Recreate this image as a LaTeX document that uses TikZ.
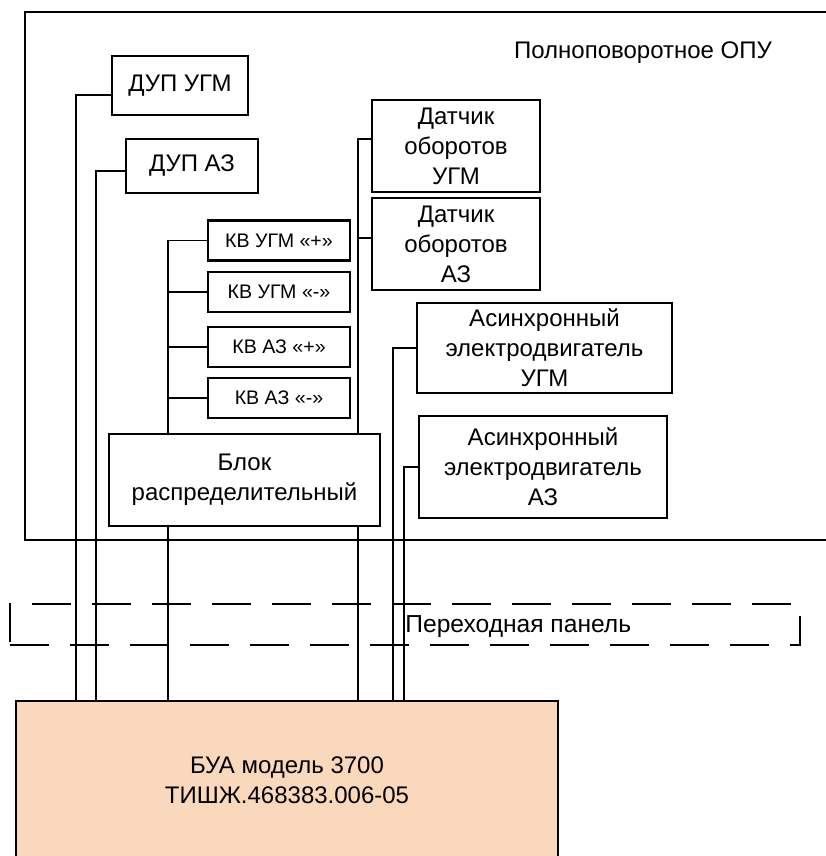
\documentclass[tikz,border=0pt]{standalone}
\usepackage{fontspec}
\setmainfont{Liberation Sans}
\definecolor{buafill}{RGB}{250,216,188}

\begin{document}
\begin{tikzpicture}[x=.5pt, y=-.5pt,
    blk/.style={draw, line width=1pt, align=center, inner sep=2pt, font=\fontsize{12}{15}\selectfont},
    kv/.style={draw, line width=1.4pt, minimum width=71pt, minimum height=20pt, font=\fontsize{9.8}{11}\selectfont},
    wire/.style={line width=.65pt}]
    \useasboundingbox (0,0) rectangle (825,856);
    % frame of the antenna post
    \draw[line width=1pt] (25,12) rectangle (840,540);
    \node[font=\fontsize{12}{15}\selectfont] (opu) at (643,53) {Полноповоротное ОПУ};
    % transition panel
    \draw[line width=1pt, dash pattern=on 19.5pt off 10.5pt] (10,645)--(800,645)--(800,604)--(10,604)--cycle;
    \node[anchor=west, inner sep=0pt, font=\fontsize{12.3}{15}\selectfont] (panel) at (405,627) {Переходная панель};

    \node[blk, minimum width=68pt, minimum height=29.5pt] (dupugm) at (180,85.5) {ДУП УГМ};
    \node[blk, minimum width=66pt, minimum height=27pt] (dupaz) at (192,166) {ДУП АЗ};
    \node[kv] (kvup) at (279,240.5) {КВ УГМ «+»};
    \node[kv] (kvum) at (279,292) {КВ УГМ «-»};
    \node[kv] (kvap) at (279,347) {КВ АЗ «+»};
    \node[kv] (kvam) at (279,398) {КВ АЗ «-»};
    \node[blk, minimum width=135.5pt, minimum height=46pt] (blok) at (244.5,480) {Блок\\распределительный};
    \node[blk, minimum width=84pt, minimum height=46pt] (dou) at (456,146) {Датчик\\оборотов\\УГМ};
    \node[blk, minimum width=84pt, minimum height=46pt] (doa) at (456,244) {Датчик\\оборотов\\АЗ};
    \node[blk, minimum width=127.5pt, minimum height=45pt] (adu) at (544.5,348) {Асинхронный\\электродвигатель\\УГМ};
    \node[blk, minimum width=124pt, minimum height=51pt] (ada) at (543,467) {Асинхронный\\электродвигатель\\АЗ};
    \node[blk, fill=buafill, minimum width=271pt, minimum height=79.5pt] (bua) at (287,780.5) {БУА модель 3700\\ТИШЖ.468383.006-05};

    % wires
    \draw[wire] ([yshift=-4.75pt]dupugm.west) -| (76,0 |- bua.north);
    \draw[wire] ([yshift=-2.5pt]dupaz.west) -| (96,0 |- bua.north);
    \draw[wire] (kvup.west) -| (168,0 |- blok.north);
    \foreach \n in {kvum,kvap,kvam}
        \draw[wire] (\n.west) -- (168,0 |- \n.west);
    \draw[wire] (168,0 |- blok.south) -- (168,0 |- bua.north);
    \draw[wire] ([yshift=3.5pt]dou.west) -| (358,0 |- blok.north);
    \draw[wire] ([yshift=3pt]doa.west) -- ++(-14,0);
    \draw[wire] (358,0 |- blok.south) -- (358,0 |- bua.north);
    \draw[wire] (adu.west) -| (393,0 |- bua.north);
    \draw[wire] (ada.west) -| (404,0 |- bua.north);
\end{tikzpicture}
\end{document}
